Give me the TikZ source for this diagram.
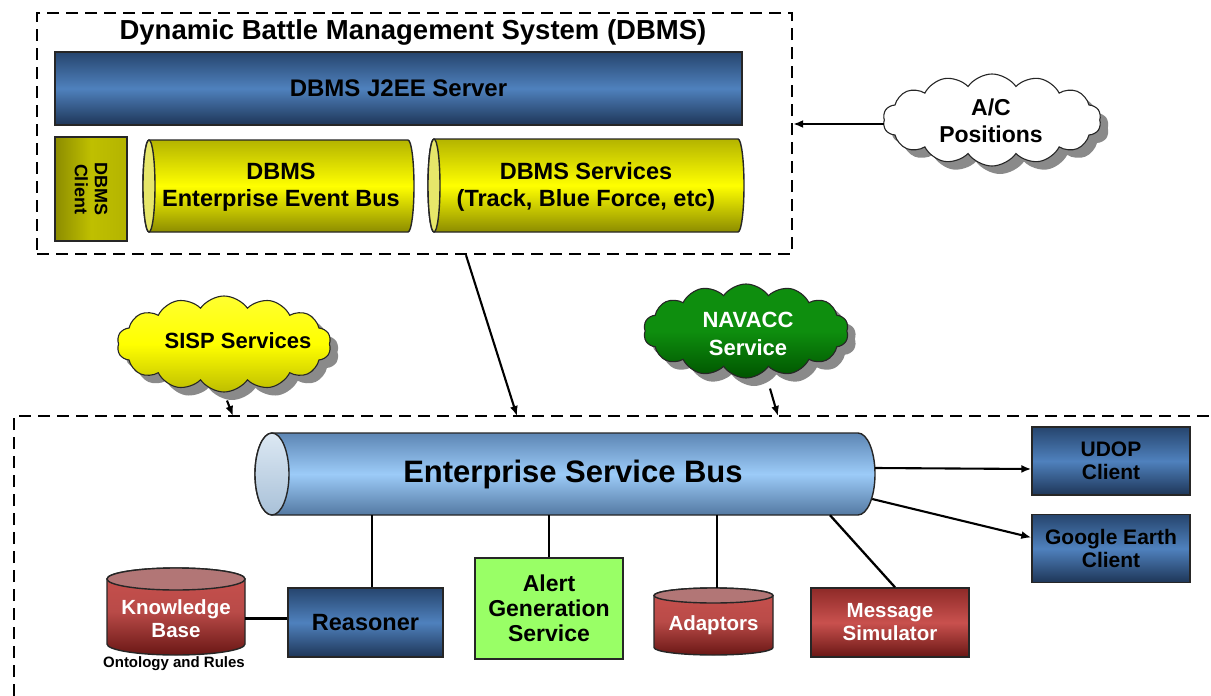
\documentclass[tikz,border=0pt]{standalone}
\usepackage{fontspec}
\setmainfont{Liberation Sans}
\usetikzlibrary{shapes.symbols,shadows,arrows.meta,calc}
\definecolor{bdark}{HTML}{26456E}
\definecolor{bmid}{HTML}{4F81BD}
\definecolor{bdark2}{HTML}{1E3658}
\definecolor{ydark}{HTML}{B4B400}
\definecolor{ymid}{HTML}{FFFF00}
\definecolor{ydark2}{HTML}{8C8C00}
\definecolor{ycap}{HTML}{E6E66A}
\definecolor{eblue}{HTML}{5D86B4}
\definecolor{elight}{HTML}{9CCBF8}
\definecolor{ecaptop}{HTML}{DCE8F3}
\definecolor{ecapbot}{HTML}{A9C1D8}
\definecolor{rdark}{HTML}{8E2A28}
\definecolor{rmid}{HTML}{C9514E}
\definecolor{rdark2}{HTML}{6A1715}
\definecolor{rcap}{HTML}{B27676}
\definecolor{agreen}{HTML}{99FF66}
\definecolor{ngreen}{HTML}{0E8E0E}
\definecolor{ngreen2}{HTML}{005400}
\definecolor{syel}{HTML}{FFFF30}
\definecolor{syel2}{HTML}{BEBE00}
\definecolor{shadowgray}{HTML}{8A8A8A}
\definecolor{edge}{HTML}{262626}
\newcommand{\myfs}[2]{\fontsize{#1}{#2}\selectfont\bfseries}
\begin{document}
\begin{tikzpicture}[x=1pt,y=-1pt,
  box/.style={draw=edge, line width=1.4pt, align=center, inner sep=0pt},
  bluebox/.style={box, top color=bdark, bottom color=bdark2, middle color=bmid},
  redbox/.style={box, top color=rdark, bottom color=rdark2, middle color=rmid, text=white},
  yelbox/.style={box, left color=ydark2, right color=ydark, middle color=ydark!85!ymid},
  txt/.style={align=center, inner sep=0pt},
  dashline/.style={line width=2.3pt, dash pattern=on 12pt off 7pt},
  conn/.style={line width=2.3pt},
  arr/.style={line width=2.1pt, -{Latex[length=10pt,width=8pt]}},
  cloudy/.style={cloud, cloud puffs=14, cloud puff arc=110, cloud ignores aspect, draw=edge, line width=1.1pt, inner sep=0pt,
     drop shadow={shadow xshift=8pt, shadow yshift=-8pt, fill=shadowgray, opacity=1}},
  cylline/.style={draw=edge, line width=1.4pt}
]
\fill[white] (0,0) rectangle (1211,696);
\useasboundingbox (0,0) rectangle (1211,696);

% ---------- top DBMS group ----------
\node[dashline, draw, minimum width=755pt, minimum height=241pt, inner sep=0pt] (dbms) at (414.5,133.5) {};
\node[txt, font=\myfs{27.5}{30}] (title) at (413,32) {Dynamic Battle Management System (DBMS)};
\node[bluebox, minimum width=687pt, minimum height=73pt, font=\myfs{24}{26}] (j2ee) at (398.5,88.5) {DBMS J2EE Server};
\node[yelbox, rotate=-90, minimum width=104pt, minimum height=72pt, font=\myfs{18}{20}] (client) at (91,189) {DBMS\\Client};

% event bus cylinder
\shade[cylline, top color=ydark, bottom color=ydark2, middle color=ymid]
  (149,140) -- (408,140) arc[start angle=-90,end angle=90,x radius=6,y radius=46]
  -- (149,232) arc[start angle=90,end angle=270,x radius=6,y radius=46] -- cycle;
\filldraw[fill=ycap, cylline] (149,186) ellipse[x radius=6,y radius=46];
\node[txt, font=\myfs{23.5}{27}] (eeb) at (281,187) {DBMS\\Enterprise Event Bus};

% services cylinder
\shade[cylline, top color=ydark, bottom color=ydark2, middle color=ymid]
  (434,139) -- (738,139) arc[start angle=-90,end angle=90,x radius=6,y radius=46.5]
  -- (434,232) arc[start angle=90,end angle=270,x radius=6,y radius=46.5] -- cycle;
\filldraw[fill=ycap, cylline] (434,185.5) ellipse[x radius=6,y radius=46.5];
\node[txt, font=\myfs{23.5}{27}] (serv) at (586,187) {DBMS Services\\(Track, Blue Force, etc)};

% ---------- clouds ----------
\node[cloudy, fill=white, minimum width=218pt, minimum height=92pt] (ac) at (992,120) {};
\node[txt, font=\myfs{23}{27}] (aclabel) at (991,121) {A/C\\Positions};
\node[cloudy, top color=syel, bottom color=syel2, middle color=ymid, minimum width=214pt, minimum height=96pt] (sisp) at (224,344) {};
\node[txt, font=\myfs{22}{26}] (sisplabel) at (238,341) {SISP Services};
\node[cloudy, top color=ngreen, bottom color=ngreen2, middle color=ngreen, minimum width=205pt, minimum height=94pt] (navacc) at (746,331) {};
\node[txt, font=\myfs{22}{28}, text=white] (navlabel) at (748,334) {NAVACC\\Service};

% ---------- bottom group ----------
\draw[dashline] (14,696) -- (14,416) -- (1211,416);
\coordinate (e1) at (233,416);
\coordinate (e2) at (517,416);
\coordinate (e3) at (778,416);

% ESB cylinder
\shade[cylline, top color=eblue, bottom color=eblue!90!black, middle color=elight]
  (272,433) -- (858,433) arc[start angle=-90,end angle=90,x radius=17,y radius=41]
  -- (272,515) arc[start angle=90,end angle=270,x radius=17,y radius=41] -- cycle;
\shade[cylline, top color=ecaptop, bottom color=ecapbot] (272,474) ellipse[x radius=17,y radius=41];
\node[txt, minimum width=620pt, minimum height=82pt] (esb) at (565,474) {};
\node[txt, font=\myfs{31}{34}] (esblabel) at (573,474) {Enterprise Service Bus};

\node[bluebox, minimum width=158pt, minimum height=68pt, font=\myfs{21}{23}] (udop) at (1111,461) {UDOP\\Client};
\node[bluebox, minimum width=158pt, minimum height=68pt, font=\myfs{21}{23}] (ge) at (1111,548.5) {Google Earth\\Client};
\node[bluebox, minimum width=155pt, minimum height=69pt, font=\myfs{23.5}{26}] (reason) at (365.5,622.5) {Reasoner};
\node[box, fill=agreen, minimum width=148pt, minimum height=101pt, font=\myfs{23}{25}] (alert) at (549,608.5) {Alert\\Generation\\Service};
\node[redbox, minimum width=158pt, minimum height=69pt, font=\myfs{20.5}{23}] (msg) at (890,622.5) {Message\\Simulator};

% Knowledge base cylinder
\shade[cylline, top color=rmid, bottom color=rdark2, middle color=rmid!92!black]
  (107,579) -- (107,644) arc[start angle=180,end angle=0,x radius=69,y radius=11]
  -- (245,579) arc[start angle=0,end angle=-180,x radius=69,y radius=11] -- cycle;
\filldraw[fill=rcap, cylline] (176,579) ellipse[x radius=69,y radius=11];
\node[txt, font=\myfs{20.5}{23}, text=white, minimum width=138pt] (kb) at (176,618.5) {Knowledge\\Base};
\node[txt, font=\myfs{15}{17}] (onto) at (174,664) {Ontology and Rules};

% Adaptors cylinder
\shade[cylline, top color=rmid, bottom color=rdark2, middle color=rmid!92!black]
  (654,595.5) -- (654,647.5) arc[start angle=180,end angle=0,x radius=59.5,y radius=7.5]
  -- (773,595.5) arc[start angle=0,end angle=-180,x radius=59.5,y radius=7.5] -- cycle;
\filldraw[fill=rcap, cylline] (713.5,595.5) ellipse[x radius=59.5,y radius=7.5];
\node[txt, font=\myfs{20.5}{23}, text=white, minimum width=119pt, minimum height=74pt] (adapt) at (713.5,625) {Adaptors};

% ---------- connectors ----------
\draw[arr] ([yshift=-4pt]ac.west) -- ([yshift=-4pt]ac.west -| dbms.east);
\draw[arr] ([xshift=51.5pt]dbms.south) -- (e2);
\draw[arr] ([xshift=3pt,yshift=-8pt]sisp.south) -- (e1);
\draw[arr] ([xshift=24pt,yshift=-10pt]navacc.south) -- (e3);

\draw[arr] ([yshift=6pt]esb.east) -- ([yshift=-8pt]udop.west);
\draw[arr] ([xshift=-3pt,yshift=-25pt]esb.east) -- ([yshift=11pt]ge.west);

\coordinate (rtop) at ([xshift=6.5pt]reason.north);
\coordinate (atop) at ([xshift=3.5pt]adapt.north);
\draw[conn] (rtop) -- (rtop |- esb.south);
\draw[conn] (alert.north) -- (alert.north |- esb.south);
\draw[conn] (atop) -- (atop |- esb.south);
\draw[conn] ([xshift=5pt]msg.north) -- ([xshift=265pt]esb.south);
\draw[conn] (kb.east) -- (kb.east -| reason.west);
\end{tikzpicture}
\end{document}
